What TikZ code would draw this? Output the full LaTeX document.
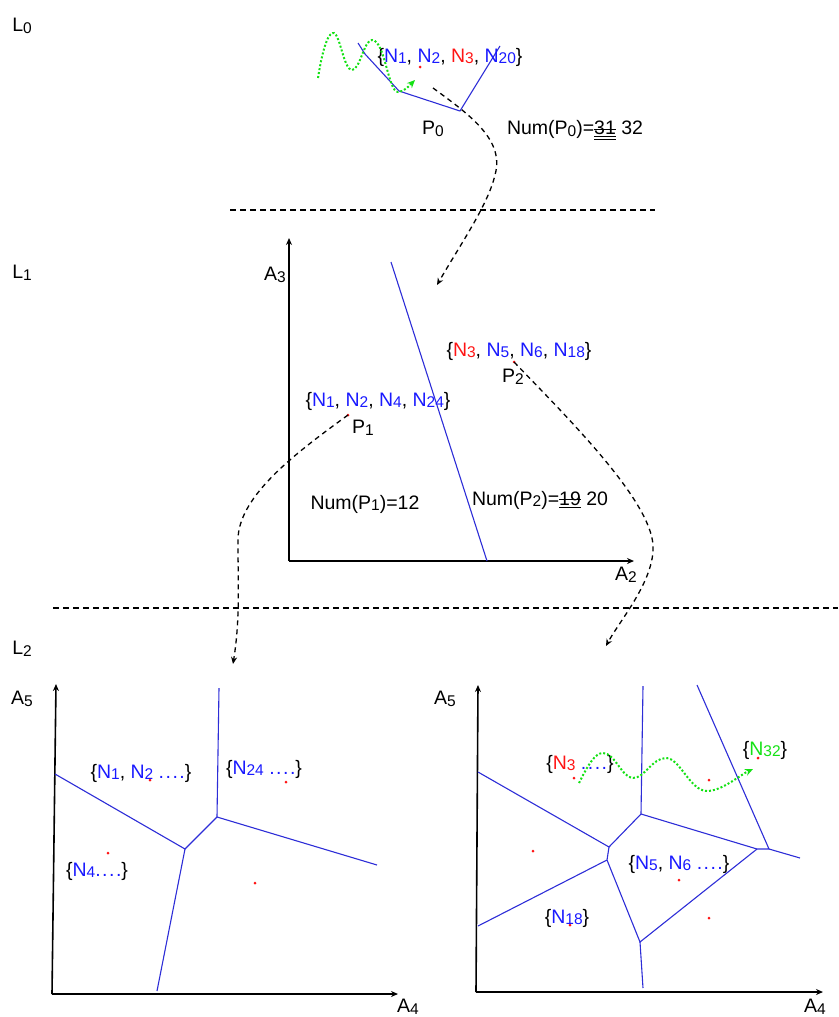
\documentclass[tikz,border=0pt]{standalone}
\usepackage{fontspec}
\setmainfont{Liberation Sans}
\usetikzlibrary{arrows.meta}
\definecolor{tblue}{RGB}{25,25,255}
\definecolor{lblue}{RGB}{45,45,215}
\definecolor{tred}{RGB}{255,20,20}
\definecolor{tgreen}{RGB}{20,225,20}
\newcommand\ix[1]{\raisebox{-0.08em}{\fontsize{15.5}{16}\selectfont #1}}
\newcommand\NN[2]{\textcolor{#1}{N\ix{#2}}}
\newcommand\strkA[1]{\setbox0\hbox{#1}\leavevmode\rlap{\rule[0.28em]{\wd0}{0.6pt}}\rlap{\rule[-0.1em]{\wd0}{0.6pt}}\rlap{\rule[-0.22em]{\wd0}{0.6pt}}\box0\relax}
\newcommand\strkB[1]{\setbox0\hbox{#1}\leavevmode\rlap{\rule[0.28em]{\wd0}{0.6pt}}\rlap{\rule[-0.12em]{\wd0}{0.6pt}}\box0\relax}
\newcommand\bdots{\textcolor{tblue}{.\kern1.5pt.\kern1.5pt.\kern1.5pt.}}
\tikzset{
  txt/.style={inner sep=0pt, font=\fontsize{19.5}{22}\selectfont},
  axis/.style={line width=1.6pt, -{Stealth[length=7pt,width=6pt]}},
  vor/.style={lblue, line width=1.1pt},
  sep/.style={line width=1.2pt, dash pattern=on 6pt off 4pt},
  link/.style={line width=1.3pt, dash pattern=on 5pt off 4pt, -{Stealth[length=7pt,width=6pt]}},
  wave/.style={tgreen, line width=2pt, dotted, -{Stealth[length=8pt,width=7pt]}},
  pt/.style={circle, fill=tred, inner sep=0pt, minimum size=3pt}
}
\begin{document}
\begin{tikzpicture}[x=1pt,y=-1pt]
\useasboundingbox (0,0) rectangle (838,1017);
% level labels
\node[txt] (l0) at (22,26) {L\ix{0}};
\node[txt] (l1) at (22,273) {L\ix{1}};
\node[txt] (l2) at (22,649) {L\ix{2}};
% separators
\coordinate (s1a) at (230,210); \coordinate (s1b) at (655,210);
\coordinate (s2a) at (53,608); \coordinate (s2b) at (838,608);
\draw[sep] (s1a) -- (s1b);
\draw[sep] (s2a) -- (s2b);

% ---------- L0 ----------
\coordinate (t1) at (358,43);
\coordinate (t2) at (365,54);
\coordinate (t3) at (399,91);
\coordinate (p0) at (460,111);
\coordinate (t5) at (500,46);
\draw[vor] (t1) -- (t2) -- (t3) -- (p0) -- (t5);
\node[txt] (set0) at (450,57) {\{\NN{tblue}{1}, \NN{tblue}{2}, \NN{tred}{3}, \NN{tblue}{20}\}};
\node[pt] (d0) at (420,67) {};
\node[txt] (lp0) at (433,129) {P\ix{0}};
\node[txt] (num0) at (575,130) {Num(P\ix{0})=\strkA{31} 32};
\coordinate (w0s) at (318,78);
\coordinate (w0e) at (415,80);
\draw[wave] (w0s) .. controls (324,40) and (330,32) .. (334,33)
  .. controls (340,35) and (344,70) .. (352,70)
  .. controls (360,70) and (364,40) .. (372,40)
  .. controls (385,40) and (388,92) .. (398,92)
  .. controls (404,92) and (410,85) .. (w0e);
\coordinate (c0s) at (433,88);
\coordinate (c0e) at (437,285);
\draw[link] (c0s) .. controls (470,115) and (505,140) .. (495,175)
  .. controls (488,205) and (460,245) .. (c0e);

% ---------- L1 ----------
\coordinate (o1) at (289,561);
\coordinate (y1) at (289,238);
\coordinate (x1) at (634,561);
\draw[axis] (o1) -- (y1);
\draw[axis] (o1) -- (x1);
\node[txt] (a3) at (275,275) {A\ix{3}};
\node[txt] (a2) at (626,575) {A\ix{2}};
\coordinate (b1) at (391,262); \coordinate (b2) at (487,561);
\draw[vor] (b1) -- (b2);
\node[txt] (set2) at (519,351) {\{\NN{tred}{3}, \NN{tblue}{5}, \NN{tblue}{6}, \NN{tblue}{18}\}};
\node[pt] (d2) at (514,362) {};
\node[txt] (lp2) at (513,377) {P\ix{2}};
\node[txt] (set1) at (378,401) {\{\NN{tblue}{1}, \NN{tblue}{2}, \NN{tblue}{4}, \NN{tblue}{24}\}};
\node[pt] (d1) at (348,415) {};
\node[txt] (lp1) at (363,428) {P\ix{1}};
\node[txt] (num1) at (365,504) {Num(P\ix{1})=12};
\node[txt] (num2) at (540,500) {Num(P\ix{2})=\strkB{19} 20};
\coordinate (c1e) at (233,664);
\draw[link] (d1.center) .. controls (300,450) and (238,495) .. (238,540)
  .. controls (238,590) and (240,620) .. (c1e);
\coordinate (c2e) at (606,646);
\draw[link] (d2.center) .. controls (570,420) and (650,500) .. (653,545)
  .. controls (655,580) and (620,620) .. (c2e);

% ---------- L2 left ----------
\coordinate (o2) at (52,994);
\coordinate (y2) at (56,684);
\coordinate (x2) at (398,994);
\draw[axis] (o2) -- (y2);
\draw[axis] (o2) -- (x2);
\node[txt] (a5l) at (22,699) {A\ix{5}};
\node[txt] (a4l) at (408,1007) {A\ix{4}};
\coordinate (la) at (55,774); \coordinate (lb) at (185,849);
\coordinate (lc) at (217,817); \coordinate (ld) at (219,688);
\coordinate (le) at (377,865); \coordinate (lf) at (157,991);
\draw[vor] (la) -- (lb) -- (lc) -- (ld);
\draw[vor] (lc) -- (le);
\draw[vor] (lb) -- (lf);
\node[pt] (e1) at (150,780) {};
\node[pt] (e2) at (286,782) {};
\node[pt] (e3) at (108,853) {};
\node[pt] (e4) at (255,883) {};
\node[txt] (sl1) at (141,773) {\{\NN{tblue}{1}, \NN{tblue}{2} \bdots\}};
\node[txt] (sl2) at (264,769) {\{\NN{tblue}{24} \bdots\}};
\node[txt] (sl3) at (97,871) {\{\NN{tblue}{4}\bdots\}};

% ---------- L2 right ----------
\coordinate (o3) at (476,992);
\coordinate (y3) at (478,685);
\coordinate (x3) at (823,992);
\draw[axis] (o3) -- (y3);
\draw[axis] (o3) -- (x3);
\node[txt] (a5r) at (445,699) {A\ix{5}};
\node[txt] (a4r) at (815,1007) {A\ix{4}};
\coordinate (ra) at (478,772); \coordinate (rb) at (609,847);
\coordinate (rc) at (641,814); \coordinate (rd) at (643,686);
\coordinate (re) at (757,849); \coordinate (rf) at (769,849);
\coordinate (rg) at (697,685); \coordinate (rh) at (800,858);
\coordinate (ri) at (607,860); \coordinate (rj) at (478,926);
\coordinate (rk) at (640,942); \coordinate (rl) at (643,988);
\draw[vor] (ra) -- (rb) -- (rc) -- (rd);
\draw[vor] (rc) -- (re) -- (rf) -- (rg);
\draw[vor] (rf) -- (rh);
\draw[vor] (rb) -- (ri) -- (rj);
\draw[vor] (ri) -- (rk) -- (re);
\draw[vor] (rk) -- (rl);
\node[pt] (f1) at (574,778) {};
\node[pt] (f2) at (709,780) {};
\node[pt] (f3) at (758,758) {};
\node[pt] (f4) at (533,851) {};
\node[pt] (f5) at (679,880) {};
\node[pt] (f6) at (709,918) {};
\node[pt] (f7) at (570,925) {};
\node[txt] (sr1) at (580,764) {\{\NN{tred}{3} \bdots\}};
\node[txt] (sr2) at (765,750) {\{\NN{tgreen}{32}\}};
\node[txt] (sr3) at (679,864) {\{\NN{tblue}{5}, \NN{tblue}{6} \bdots\}};
\node[txt] (sr4) at (567,918) {\{\NN{tblue}{18}\}};
\coordinate (w1s) at (579,783);
\coordinate (w1e) at (753,769);
\draw[wave] (w1s) .. controls (588,765) and (595,753) .. (603,753)
  .. controls (615,753) and (622,778) .. (633,778)
  .. controls (645,778) and (652,758) .. (666,758)
  .. controls (680,758) and (690,791) .. (707,791)
  .. controls (722,791) and (740,775) .. (w1e);
\end{tikzpicture}
\end{document}
